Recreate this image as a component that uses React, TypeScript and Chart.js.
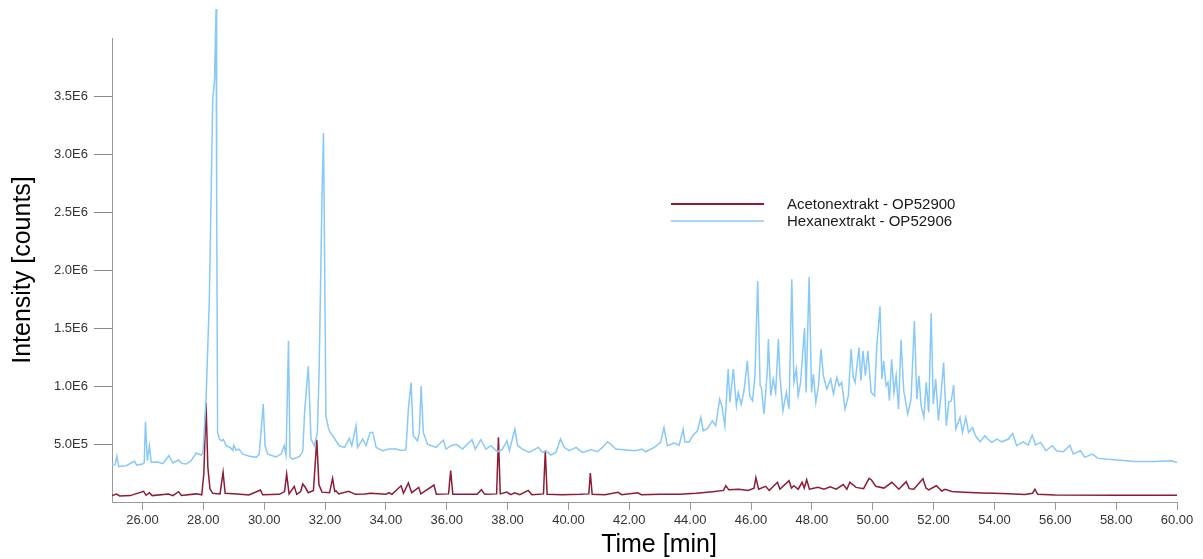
import React, { useEffect, useRef } from "react";
import { Chart, registerables } from "chart.js";

Chart.register(...registerables);

// Chromatogram traces: [retention time (min), intensity (counts)]
const acetonextrakt: [number, number][] = [
  [25.0, 55000], [25.15, 69000], [25.25, 52000], [25.6, 55000], [26.04, 92000],
  [26.12, 58000], [26.23, 80000], [26.32, 55000], [26.86, 69000], [27.0, 55000],
  [27.19, 89000], [27.28, 57000], [27.77, 70000], [27.95, 62000], [28.02, 250000],
  [28.09, 853000], [28.15, 300000], [28.22, 112000], [28.31, 75000], [28.55, 70000],
  [28.65, 256000], [28.72, 75000], [29.13, 70000], [29.5, 60000], [29.88, 103000],
  [29.95, 62000], [30.5, 66000], [30.67, 90000], [30.74, 241000], [30.82, 70000],
  [30.99, 135000], [31.07, 66000], [31.2, 90000], [31.27, 155000], [31.35, 127000],
  [31.45, 80000], [31.62, 100000], [31.73, 537000], [31.8, 150000], [31.9, 85000],
  [32.15, 80000], [32.25, 204000], [32.32, 90000], [32.36, 97000], [32.45, 70000],
  [32.78, 92000], [33.0, 66000], [33.3, 70000], [33.5, 75000], [34.0, 66000],
  [34.1, 80000], [34.2, 66000], [34.5, 140000], [34.58, 75000], [34.74, 164000],
  [34.85, 80000], [35.08, 126000], [35.15, 70000], [35.58, 146000], [35.66, 66000],
  [36.06, 70000], [36.13, 270000], [36.2, 66000], [37.0, 66000], [37.14, 106000],
  [37.25, 66000], [37.64, 70000], [37.7, 557000], [37.76, 70000], [37.98, 86000],
  [38.1, 63000], [38.24, 80000], [38.4, 63000], [38.68, 100000], [38.8, 63000],
  [39.18, 70000], [39.24, 442000], [39.3, 66000], [39.8, 63000], [40.4, 66000],
  [40.67, 70000], [40.72, 250000], [40.78, 66000], [41.2, 63000], [41.63, 83000],
  [41.75, 63000], [42.28, 80000], [42.4, 63000], [43.0, 66000], [43.65, 66000],
  [44.2, 75000], [44.74, 89000], [45.1, 100000], [45.17, 140000], [45.27, 106000],
  [45.6, 110000], [45.9, 100000], [46.1, 120000], [46.16, 210000], [46.25, 110000],
  [46.48, 135000], [46.6, 100000], [46.87, 170000], [46.95, 110000], [47.25, 184000],
  [47.33, 120000], [47.41, 140000], [47.55, 110000], [47.68, 170000], [47.75, 120000],
  [47.83, 192000], [47.92, 110000], [48.2, 126000], [48.4, 110000], [48.6, 130000],
  [48.8, 110000], [49.03, 150000], [49.15, 110000], [49.25, 170000], [49.45, 126000],
  [49.7, 115000], [49.88, 204000], [49.96, 190000], [50.1, 135000], [50.37, 120000],
  [50.63, 170000], [50.86, 110000], [51.1, 175000], [51.2, 115000], [51.35, 110000],
  [51.65, 200000], [51.75, 120000], [51.84, 105000], [52.09, 140000], [52.27, 95000],
  [52.38, 110000], [52.6, 90000], [53.0, 85000], [53.6, 78000], [54.0, 75000],
  [54.47, 72000], [55.0, 65000], [55.25, 75000], [55.33, 110000], [55.42, 66000],
  [56.0, 60000], [58.0, 58000], [60.0, 58000],
];

const hexanextrakt: [number, number][] = [
  [25.0, 319000], [25.1, 322000], [25.16, 394000], [25.22, 307000], [25.47, 313000],
  [25.74, 353000], [25.81, 318000], [26.0, 327000], [26.06, 340000], [26.1, 692000],
  [26.16, 356000], [26.23, 485000], [26.29, 342000], [26.5, 345000], [26.67, 330000],
  [26.87, 399000], [27.0, 336000], [27.19, 362000], [27.3, 333000], [27.44, 327000],
  [27.6, 356000], [27.77, 422000], [27.93, 405000], [27.99, 420000], [28.09, 887000],
  [28.2, 1750000], [28.31, 3470000], [28.37, 3640000], [28.42, 4250000], [28.44, 2610000],
  [28.47, 600000], [28.53, 543000], [28.6, 528000], [28.66, 540000], [28.75, 485000],
  [28.88, 470000], [28.97, 445000], [29.0, 490000], [29.08, 448000], [29.17, 456000],
  [29.3, 413000], [29.52, 394000], [29.74, 385000], [29.84, 413000], [29.97, 844000],
  [30.03, 485000], [30.12, 413000], [30.39, 388000], [30.56, 413000], [30.66, 485000],
  [30.72, 405000], [30.8, 1390000], [30.85, 385000], [30.94, 370000], [31.16, 393000],
  [31.27, 437000], [31.33, 775000], [31.45, 1170000], [31.54, 543000], [31.65, 485000],
  [31.75, 600000], [31.81, 1170000], [31.9, 2610000], [31.95, 3180000], [31.98, 2325000],
  [32.03, 743000], [32.12, 629000], [32.17, 600000], [32.25, 571000], [32.36, 528000],
  [32.47, 485000], [32.64, 471000], [32.8, 549000], [32.88, 485000], [33.02, 657000],
  [33.07, 471000], [33.24, 543000], [33.35, 485000], [33.48, 600000], [33.57, 600000],
  [33.68, 471000], [33.89, 442000], [34.11, 456000], [34.33, 456000], [34.5, 445000],
  [34.66, 450000], [34.74, 801000], [34.83, 1030000], [34.9, 571000], [35.04, 528000],
  [35.1, 600000], [35.16, 1000000], [35.23, 600000], [35.37, 499000], [35.65, 471000],
  [35.89, 534000], [35.98, 456000], [36.14, 485000], [36.32, 497000], [36.52, 456000],
  [36.83, 537000], [36.94, 456000], [37.12, 537000], [37.29, 456000], [37.45, 485000],
  [37.67, 433000], [37.83, 456000], [37.98, 528000], [38.06, 442000], [38.24, 629000],
  [38.33, 485000], [38.49, 456000], [38.71, 428000], [39.01, 471000], [39.15, 428000],
  [39.26, 442000], [39.42, 405000], [39.59, 428000], [39.74, 543000], [39.86, 471000],
  [40.03, 442000], [40.25, 471000], [40.46, 428000], [40.74, 450000], [40.95, 433000],
  [41.12, 471000], [41.28, 520000], [41.39, 499000], [41.56, 456000], [41.89, 448000],
  [42.21, 442000], [42.41, 456000], [42.54, 433000], [42.82, 471000], [43.03, 514000],
  [43.14, 643000], [43.25, 485000], [43.47, 508000], [43.64, 490000], [43.77, 629000],
  [43.83, 517000], [43.97, 517000], [44.08, 571000], [44.24, 614000], [44.35, 730000],
  [44.43, 614000], [44.57, 634000], [44.73, 700000], [44.84, 657000], [44.97, 887000],
  [45.04, 830000], [45.14, 657000], [45.25, 1146000], [45.31, 861000], [45.42, 1146000],
  [45.52, 830000], [45.58, 945000], [45.68, 842000], [45.77, 959000], [45.88, 1217000],
  [45.96, 916000], [46.05, 873000], [46.13, 1088000], [46.22, 1906000], [46.3, 1002000],
  [46.34, 988000], [46.43, 758000], [46.54, 1146000], [46.57, 1404000], [46.65, 916000],
  [46.73, 1060000], [46.81, 945000], [46.9, 1404000], [46.95, 1088000], [47.05, 786000],
  [47.16, 945000], [47.25, 801000], [47.34, 1920000], [47.41, 1031000], [47.49, 1146000],
  [47.55, 916000], [47.63, 1031000], [47.76, 1500000], [47.81, 945000], [47.91, 1940000],
  [47.99, 945000], [48.05, 1103000], [48.13, 858000], [48.22, 1002000], [48.3, 1318000],
  [48.38, 1088000], [48.49, 973000], [48.62, 1060000], [48.71, 930000], [48.82, 1074000],
  [48.9, 1002000], [48.98, 1031000], [49.09, 801000], [49.2, 916000], [49.29, 1318000],
  [49.36, 1074000], [49.42, 1031000], [49.55, 1332000], [49.61, 1045000], [49.68, 1303000],
  [49.76, 1088000], [49.84, 1303000], [49.95, 945000], [50.06, 916000], [50.13, 1332000],
  [50.24, 1686000], [50.3, 1060000], [50.36, 1217000], [50.44, 1002000], [50.5, 1031000],
  [50.55, 873000], [50.62, 1231000], [50.7, 945000], [50.77, 1088000], [50.85, 801000],
  [50.93, 1398000], [51.02, 959000], [51.15, 758000], [51.26, 887000], [51.37, 1560000],
  [51.45, 887000], [51.52, 1088000], [51.59, 830000], [51.68, 730000], [51.76, 1031000],
  [51.84, 773000], [51.92, 1628000], [51.99, 844000], [52.07, 1060000], [52.16, 700000],
  [52.25, 945000], [52.33, 1203000], [52.42, 657000], [52.5, 861000], [52.58, 870000],
  [52.66, 1008000], [52.73, 629000], [52.87, 729000], [52.95, 600000], [53.06, 729000],
  [53.15, 600000], [53.28, 643000], [53.38, 571000], [53.53, 519000], [53.69, 571000],
  [53.78, 543000], [53.91, 514000], [54.08, 543000], [54.24, 519000], [54.46, 543000],
  [54.6, 591000], [54.73, 485000], [54.95, 519000], [55.11, 491000], [55.24, 577000],
  [55.35, 491000], [55.52, 514000], [55.69, 442000], [55.9, 485000], [56.04, 442000],
  [56.26, 433000], [56.48, 488000], [56.59, 413000], [56.83, 442000], [56.97, 385000],
  [57.21, 413000], [57.41, 376000], [57.95, 364000], [58.61, 350000], [59.26, 350000],
  [59.81, 356000], [60.0, 341000],
];

const seriesNames = ["Acetonextrakt - OP52900", "Hexanextrakt - OP52906"];
const seriesColors = ["#8c1c34", "#88c9f8"];

const timeTicks = [26, 28, 30, 32, 34, 36, 38, 40, 42, 44, 46, 48, 50, 52, 54, 56, 58, 60];
const intensityTicks = [500000, 1000000, 1500000, 2000000, 2500000, 3000000, 3500000];
const intensityTickLabels = ["5.0E5", "1.0E6", "1.5E6", "2.0E6", "2.5E6", "3.0E6", "3.5E6"];

const xTitle = "Time [min]";
const yTitle = "Intensity [counts]";

const FONT = "'Liberation Sans', Arial, Helvetica, sans-serif";

export default function App() {
  const canvasRef = useRef<HTMLCanvasElement>(null);

  useEffect(() => {
    const canvas = canvasRef.current;
    if (!canvas) return;

    // Axis titles and the legend box are painted on top of the chart
    const overlay = {
      id: "overlay",
      afterDraw(chart: any) {
        const ctx = chart.ctx as CanvasRenderingContext2D;
        const area = chart.chartArea;
        ctx.save();
        ctx.fillStyle = "#000";
        ctx.font = `25px ${FONT}`;
        ctx.textAlign = "center";
        ctx.textBaseline = "middle";
        ctx.fillText(xTitle, 659, 545);
        ctx.save();
        ctx.translate(23, (area.top + area.bottom) / 2);
        ctx.rotate(-Math.PI / 2);
        ctx.fillText(yTitle, 0, 0);
        ctx.restore();

        ctx.font = `15px ${FONT}`;
        ctx.textAlign = "left";
        const rows = [204, 221];
        seriesNames.forEach((name, i) => {
          ctx.strokeStyle = seriesColors[i];
          ctx.lineWidth = i === 0 ? 2 : 1.5;
          ctx.beginPath();
          ctx.moveTo(671, rows[i]);
          ctx.lineTo(764, rows[i]);
          ctx.stroke();
          ctx.fillStyle = "#1a1a1a";
          ctx.fillText(name, 787, rows[i] + 1);
        });
        ctx.restore();
      },
    };

    const chart = new Chart(canvas, {
      type: "line",
      data: {
        datasets: [
          {
            label: seriesNames[1],
            data: hexanextrakt.map(([x, y]) => ({ x, y })),
            borderColor: seriesColors[1],
            borderWidth: 1.5,
            pointRadius: 0,
            tension: 0,
            clip: false as any,
            order: 0,
          },
          {
            label: seriesNames[0],
            data: acetonextrakt.map(([x, y]) => ({ x, y })),
            borderColor: seriesColors[0],
            borderWidth: 1.5,
            pointRadius: 0,
            tension: 0,
            clip: false as any,
            order: 1,
          },
        ],
      },
      options: {
        animation: false,
        responsive: false,
        events: [],
        layout: { padding: { top: 38, right: 26, left: 0, bottom: 0 } },
        plugins: {
          legend: { display: false },
          tooltip: { enabled: false },
        },
        scales: {
          x: {
            type: "linear",
            min: 25,
            max: 60,
            afterFit: (s: any) => {
              s.height = 57;
            },
            afterBuildTicks: (s: any) => {
              s.ticks = timeTicks.map((v) => ({ value: v }));
            },
            ticks: {
              autoSkip: false,
              maxRotation: 0,
              padding: 3,
              color: "#333",
              font: { family: FONT, size: 13 },
              callback: (v: any) => Number(v).toFixed(2),
            },
            grid: {
              drawOnChartArea: false,
              drawTicks: true,
              tickLength: 8,
              tickColor: "#9a9a9a",
              tickWidth: 1,
            },
            border: { display: true, color: "#9a9a9a", width: 1 },
          },
          y: {
            type: "linear",
            min: 0,
            max: 4000000,
            afterFit: (s: any) => {
              s.width = 112;
            },
            afterBuildTicks: (s: any) => {
              s.ticks = intensityTicks.map((v) => ({ value: v }));
            },
            ticks: {
              autoSkip: false,
              padding: 6,
              color: "#333",
              font: { family: FONT, size: 13 },
              callback: (v: any) => intensityTickLabels[intensityTicks.indexOf(Number(v))],
            },
            grid: {
              drawOnChartArea: false,
              drawTicks: true,
              tickLength: 18,
              tickColor: "#8a8a8a",
              tickWidth: 1,
            },
            border: { display: true, color: "#9a9a9a", width: 1 },
          },
        },
      },
      plugins: [overlay],
    });

    return () => chart.destroy();
  }, []);

  return (
    <div
      style={{
        position: "absolute",
        left: 0,
        top: 0,
        width: 1203,
        height: 559,
        background: "#fff",
      }}
    >
      <canvas ref={canvasRef} width={1203} height={559} style={{ display: "block" }} />
    </div>
  );
}
